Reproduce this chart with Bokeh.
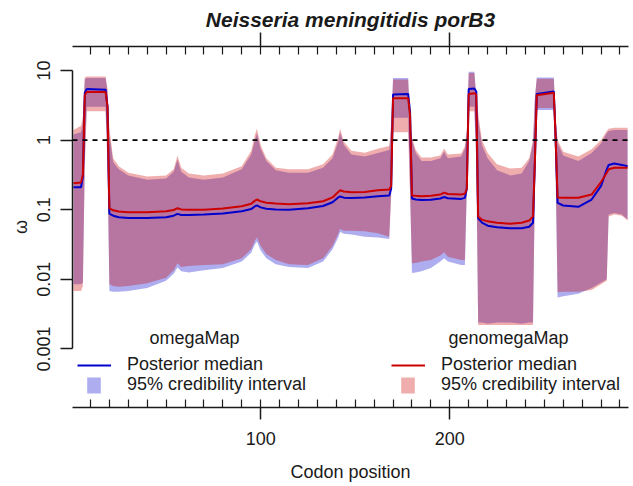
from bokeh.plotting import figure
from bokeh.models import (LinearAxis, LogAxis, FixedTicker, Range1d, Span, Legend,
                          LegendItem, Label, CustomJSTickFormatter, ColumnDataSource)
from bokeh.embed import file_html
from bokeh.resources import INLINE

# ---------------- data ----------------
codon = [1, 5, 6, 7, 8, 18, 19, 20, 22, 25, 30, 40, 50, 54, 56, 58, 62, 70, 80, 90,
         95, 97, 98, 100, 103, 108, 115, 125, 133, 138, 141, 142, 144, 148, 155, 162, 168, 169, 170, 178,
         179, 180, 182, 185, 190, 195, 197, 199, 206, 208, 209, 210, 213, 214, 215, 217, 220, 225, 232, 238,
         242, 244, 245, 246, 255, 256, 257, 260, 268, 275, 280, 283, 284, 287, 291, 294]

# omegaMap (blue)
om_med = [0.21, 0.21, 0.30, 4.8, 5.4, 5.3, 3.0, 0.088, 0.082, 0.078, 0.076, 0.076, 0.078, 0.082, 0.087, 0.084, 0.084, 0.085, 0.088, 0.095,
          0.102, 0.112, 0.115, 0.108, 0.103, 0.101, 0.100, 0.105, 0.113, 0.128, 0.150, 0.155, 0.149, 0.147, 0.150, 0.156, 0.160, 0.20, 4.5, 4.6,
          2.5, 0.145, 0.140, 0.138, 0.139, 0.145, 0.152, 0.146, 0.143, 0.148, 0.20, 5.4, 5.5, 5.0, 0.075, 0.065, 0.059, 0.056, 0.054, 0.054,
          0.057, 0.065, 0.5, 4.6, 5.0, 1.0, 0.125, 0.115, 0.110, 0.140, 0.220, 0.380, 0.440, 0.460, 0.440, 0.420]
om_lo = [0.0085, 0.0085, 0.009, 0.5, 3.0, 3.0, 0.5, 0.0068, 0.0066, 0.0066, 0.0068, 0.0075, 0.0095, 0.012, 0.0148, 0.013, 0.0125, 0.0135, 0.0145, 0.018,
         0.024, 0.032, 0.035, 0.026, 0.020, 0.0165, 0.015, 0.0145, 0.018, 0.027, 0.040, 0.048, 0.045, 0.044, 0.041, 0.040, 0.038, 0.2, 2.1, 2.1,
         0.2, 0.0123, 0.0125, 0.013, 0.0145, 0.018, 0.020, 0.018, 0.016, 0.016, 0.2, 3.0, 3.0, 0.5, 0.0024, 0.0024, 0.0023, 0.0024, 0.0024, 0.0023,
         0.0024, 0.0024, 0.2, 2.7, 2.7, 0.3, 0.0055, 0.0057, 0.0062, 0.0075, 0.009, 0.010, 0.085, 0.090, 0.085, 0.072]
om_hi = [1.2, 1.3, 1.8, 7.5, 7.8, 7.8, 5.0, 1.2, 0.48, 0.38, 0.31, 0.27, 0.28, 0.35, 0.52, 0.35, 0.29, 0.27, 0.29, 0.38,
         0.62, 1.0, 1.25, 0.75, 0.50, 0.37, 0.34, 0.34, 0.40, 0.55, 0.95, 1.3, 0.85, 0.62, 0.58, 0.65, 0.72, 1.5, 7.8, 7.8,
         1.8, 1.0, 0.65, 0.50, 0.50, 0.55, 0.68, 0.55, 0.58, 0.75, 1.2, 9.6, 9.6, 4.0, 2.0, 0.85, 0.55, 0.37, 0.31, 0.33,
         0.50, 0.90, 4.0, 7.9, 7.9, 2.0, 0.90, 0.60, 0.50, 0.65, 0.90, 1.25, 1.35, 1.4, 1.4, 1.4]

# genomegaMap (red)
gm_med = [0.24, 0.245, 0.32, 4.4, 4.9, 4.9, 3.0, 0.105, 0.098, 0.094, 0.092, 0.092, 0.095, 0.099, 0.105, 0.101, 0.100, 0.100, 0.104, 0.112,
          0.122, 0.135, 0.140, 0.132, 0.126, 0.123, 0.120, 0.124, 0.132, 0.150, 0.180, 0.190, 0.183, 0.178, 0.180, 0.190, 0.195, 0.22, 4.0, 4.0,
          2.2, 0.160, 0.158, 0.156, 0.158, 0.165, 0.176, 0.168, 0.165, 0.170, 0.20, 4.6, 4.7, 4.5, 0.080, 0.072, 0.068, 0.065, 0.063, 0.065,
          0.070, 0.080, 0.5, 4.4, 4.8, 1.0, 0.150, 0.148, 0.148, 0.165, 0.250, 0.340, 0.380, 0.400, 0.400, 0.400]
gm_lo = [0.0068, 0.0068, 0.008, 0.4, 2.6, 2.6, 0.4, 0.0085, 0.008, 0.0078, 0.008, 0.0088, 0.0105, 0.0135, 0.017, 0.015, 0.0155, 0.016, 0.0165, 0.020,
         0.027, 0.036, 0.040, 0.030, 0.023, 0.019, 0.0165, 0.016, 0.020, 0.030, 0.045, 0.053, 0.050, 0.050, 0.049, 0.046, 0.041, 0.15, 1.3, 1.3,
         0.15, 0.017, 0.0172, 0.018, 0.019, 0.022, 0.0245, 0.021, 0.019, 0.019, 0.2, 2.6, 2.6, 0.5, 0.0022, 0.0022, 0.0022, 0.0022, 0.0022, 0.0022,
         0.0022, 0.0022, 0.2, 2.9, 2.9, 0.3, 0.0065, 0.0066, 0.0066, 0.0070, 0.0085, 0.0095, 0.080, 0.085, 0.082, 0.070]
gm_hi = [1.4, 1.6, 2.2, 8.0, 8.2, 8.2, 5.5, 1.5, 0.55, 0.42, 0.34, 0.30, 0.31, 0.38, 0.60, 0.40, 0.33, 0.31, 0.33, 0.42,
         0.70, 1.2, 1.45, 0.85, 0.55, 0.40, 0.38, 0.38, 0.45, 0.62, 1.1, 1.45, 0.95, 0.70, 0.66, 0.75, 0.82, 1.7, 7.4, 7.4,
         2.0, 1.1, 0.72, 0.56, 0.56, 0.60, 0.76, 0.62, 0.64, 0.82, 1.4, 9.2, 9.2, 4.5, 2.4, 1.0, 0.65, 0.45, 0.39, 0.40,
         0.55, 1.0, 4.2, 7.6, 7.6, 2.2, 1.0, 0.68, 0.58, 0.74, 1.0, 1.35, 1.45, 1.5, 1.5, 1.5]

x_ticks = [100, 200]
x_tick_labels = ["100", "200"]
x_minor_ticks = list(range(10, 300, 10))
y_ticks = [0.001, 0.01, 0.1, 1, 10]
y_tick_labels = ["0.001", "0.01", "0.1", "1", "10"]

title_text = "Neisseria meningitidis porB3"
x_label = "Codon position"
y_label = "\u03c9"
series_names = ["omegaMap", "genomegaMap"]
median_label = "Posterior median"
band_label = "95% credibility interval"
neutral = 1

# ---------------- styling ----------------
FONT = "Liberation Sans"
BLUE = "#0000CD"
RED = "#CD0000"
BAND_ALPHA = 0.32
INK = "#1a1a1a"

src = ColumnDataSource(dict(x=codon, om_med=om_med, om_lo=om_lo, om_hi=om_hi,
                            gm_med=gm_med, gm_lo=gm_lo, gm_hi=gm_hi))

p = figure(width=632, height=484, output_backend="svg", toolbar_location=None,
           x_range=Range1d(0.5, 294.5), y_range=Range1d(1.44e-4, 22.1),
           y_axis_type="log", x_axis_location=None, y_axis_location=None,
           min_border_left=72, min_border_right=4, min_border_top=46, min_border_bottom=77,
           title=title_text)
p.outline_line_color = None
p.grid.visible = False
p.background_fill_color = "white"
p.title.align = "center"
p.title.vertical_align = "top"
p.title.text_font = FONT
p.title.text_font_size = "21px"
p.title.text_font_style = "bold italic"
p.title.text_color = INK
p.title.standoff = 0


def style_x_axis(ax):
    ax.axis_line_color = INK
    ax.axis_line_width = 1.5
    ax.major_tick_line_color = INK
    ax.major_tick_line_width = 1.5
    ax.major_tick_out = 12
    ax.major_tick_in = 0
    ax.minor_tick_line_color = INK
    ax.minor_tick_line_width = 1.2
    ax.minor_tick_in = 8
    ax.minor_tick_out = 0
    ax.major_label_text_font = FONT
    ax.major_label_text_font_size = "18px"
    ax.major_label_text_color = INK


bottom = LinearAxis(ticker=FixedTicker(ticks=x_ticks, minor_ticks=x_minor_ticks),
                    major_label_overrides=dict(zip(x_ticks, x_tick_labels)),
                    axis_label=x_label)
style_x_axis(bottom)
bottom.major_label_standoff = 12
bottom.axis_label_standoff = 14
bottom.axis_label_text_font = FONT
bottom.axis_label_text_font_size = "18px"
bottom.axis_label_text_font_style = "normal"
bottom.axis_label_text_color = INK
p.add_layout(bottom, "below")

top = LinearAxis(ticker=FixedTicker(ticks=x_ticks, minor_ticks=x_minor_ticks),
                 formatter=CustomJSTickFormatter(code="return ''"))
style_x_axis(top)
top.major_tick_out = 14
top.major_label_standoff = 8
p.add_layout(top, "above")

left = LogAxis(ticker=FixedTicker(ticks=y_ticks, minor_ticks=[]),
               major_label_overrides=dict(zip(y_ticks, y_tick_labels)),
               axis_label=y_label, bounds=(y_ticks[0], y_ticks[-1]))
left.axis_line_color = INK
left.axis_line_width = 1.5
left.major_tick_line_color = INK
left.major_tick_line_width = 1.5
left.major_tick_out = 12
left.major_tick_in = 0
left.minor_tick_line_color = None
left.major_label_orientation = "vertical"
left.major_label_standoff = 10
left.major_label_text_font = FONT
left.major_label_text_font_size = "18px"
left.major_label_text_color = INK
left.axis_label_standoff = 4
left.axis_label_text_font = FONT
left.axis_label_text_font_size = "18px"
left.axis_label_text_font_style = "normal"
left.axis_label_text_color = INK
p.add_layout(left, "left")

# bands
om_band = p.varea(x="x", y1="om_lo", y2="om_hi", source=src, fill_color=BLUE, fill_alpha=BAND_ALPHA)
gm_band = p.varea(x="x", y1="gm_lo", y2="gm_hi", source=src, fill_color=RED, fill_alpha=BAND_ALPHA)

# reference line at omega = 1
p.add_layout(Span(location=neutral, dimension="width", line_color="black",
                  line_dash="5 5", line_width=1.8))

# medians
om_line = p.line(x="x", y="om_med", source=src, line_color=BLUE, line_width=2)
gm_line = p.line(x="x", y="gm_med", source=src, line_color=RED, line_width=2)


def make_legend(renderer, label, loc, gw, gh, standoff):
    return Legend(items=[LegendItem(label=label, renderers=[renderer])], location=loc,
                  glyph_width=gw, glyph_height=gh, label_height=20, label_standoff=standoff,
                  padding=0, margin=0, spacing=0, border_line_color=None,
                  background_fill_alpha=0, label_text_font=FONT,
                  label_text_font_size="18px", label_text_color=INK)


dx = 314
p.add_layout(make_legend(om_line, median_label, (5, 32), 34, 20, 16))
p.add_layout(make_legend(om_band, band_label, (13, 12), 17, 20, 25))
p.add_layout(make_legend(gm_line, median_label, (5 + dx, 32), 34, 20, 16))
p.add_layout(make_legend(gm_band, band_label, (13 + dx, 12), 17, 20, 25))

for name, cx in zip(series_names, [122, 436]):
    p.add_layout(Label(x=cx, y=70, x_units="screen", y_units="screen", text=name,
                       text_align="center", text_baseline="middle", text_font=FONT,
                       text_font_size="18px", text_color=INK))

open("out.html", "w").write(file_html(p, INLINE))
